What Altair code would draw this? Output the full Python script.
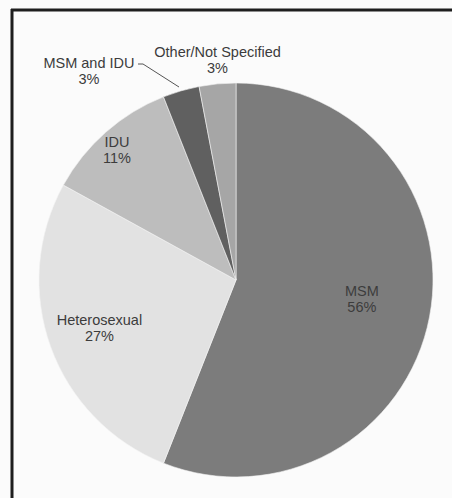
import math
import altair as alt
import pandas as pd

# Share of diagnoses by transmission category (percent)
categories = ["MSM", "Heterosexual", "IDU", "MSM and IDU", "Other/Not Specified"]
shares = [56, 27, 11, 3, 3]
slice_colors = ["#7c7c7c", "#e2e2e2", "#bdbdbd", "#606060", "#a6a6a6"]

df = pd.DataFrame({
    "category": categories,
    "share": shares,
    "rank": list(range(len(categories))),
})
df["label"] = [f"{c}\n{s}%" for c, s in zip(categories, shares)]

W, H = 452, 498
CX, CY, R = 236, 280, 197
TAU = 2 * math.pi

base = alt.Chart(df)

pie = base.mark_arc(outerRadius=R, stroke="#f4f4f4", strokeWidth=0.6).encode(
    x=alt.value(CX),
    y=alt.value(CY),
    theta=alt.Theta("share:Q", stack=True),
    order=alt.Order("rank:Q"),
    color=alt.Color(
        "category:N",
        scale=alt.Scale(domain=categories, range=slice_colors),
        legend=None,
    ),
)

# mid-angle of each slice, used to place the labels
mid_base = base.transform_window(
    cum="sum(share)", sort=[alt.SortField("rank")]
).transform_calculate(mid="datum.cum - datum.share / 2")


def label_layer(cat, radius, dx=0, dy=0):
    return mid_base.transform_filter(alt.datum.category == cat).mark_text(
        radius=radius,
        dx=dx,
        dy=dy,
        lineBreak="\n",
        font="Liberation Sans",
        fontSize=14.5,
        lineHeight=16,
        color="#3c3c3c",
        align="center",
        baseline="middle",
    ).encode(
        x=alt.value(CX),
        y=alt.value(CY),
        theta=alt.Theta("mid:Q", stack=None,
                        scale=alt.Scale(domain=[0, 100], range=[0, TAU])),
        text="label:N",
    )


labels = [
    label_layer("MSM", 120, dx=8, dy=-10),
    label_layer("Heterosexual", 142, dx=-3, dy=-7),
    label_layer("IDU", 180, dx=0, dy=-2),
    label_layer("MSM and IDU", 226, dx=-84, dy=1),
    label_layer("Other/Not Specified", 228, dx=3),
]

# leader line from the "MSM and IDU" label to its slice
leader = alt.Chart(pd.DataFrame({"k": [0]})).mark_rule(
    color="#555555", strokeWidth=1
).encode(x=alt.value(143), y=alt.value(64), x2=alt.value(179), y2=alt.value(87))
leader_tick = alt.Chart(pd.DataFrame({"k": [0]})).mark_rule(
    color="#555555", strokeWidth=1
).encode(x=alt.value(138), y=alt.value(64), x2=alt.value(143), y2=alt.value(64))

# frame along the top and left edges
frame_top = alt.Chart(pd.DataFrame({"k": [0]})).mark_rule(
    color="#1e1e1e", strokeWidth=3
).encode(x=alt.value(11), y=alt.value(10), x2=alt.value(W), y2=alt.value(10))
frame_left = alt.Chart(pd.DataFrame({"k": [0]})).mark_rule(
    color="#1e1e1e", strokeWidth=3
).encode(x=alt.value(12), y=alt.value(9), x2=alt.value(12), y2=alt.value(H))

chart = alt.layer(
    pie, leader, leader_tick, *labels, frame_top, frame_left
).properties(
    width=W,
    height=H,
    autosize=alt.AutoSizeParams(type="none"),
    padding=0,
    background="#fbfbfb",
).configure_view(stroke=None)

chart.save("out.html", embed_options={"renderer": "svg", "actions": False})
